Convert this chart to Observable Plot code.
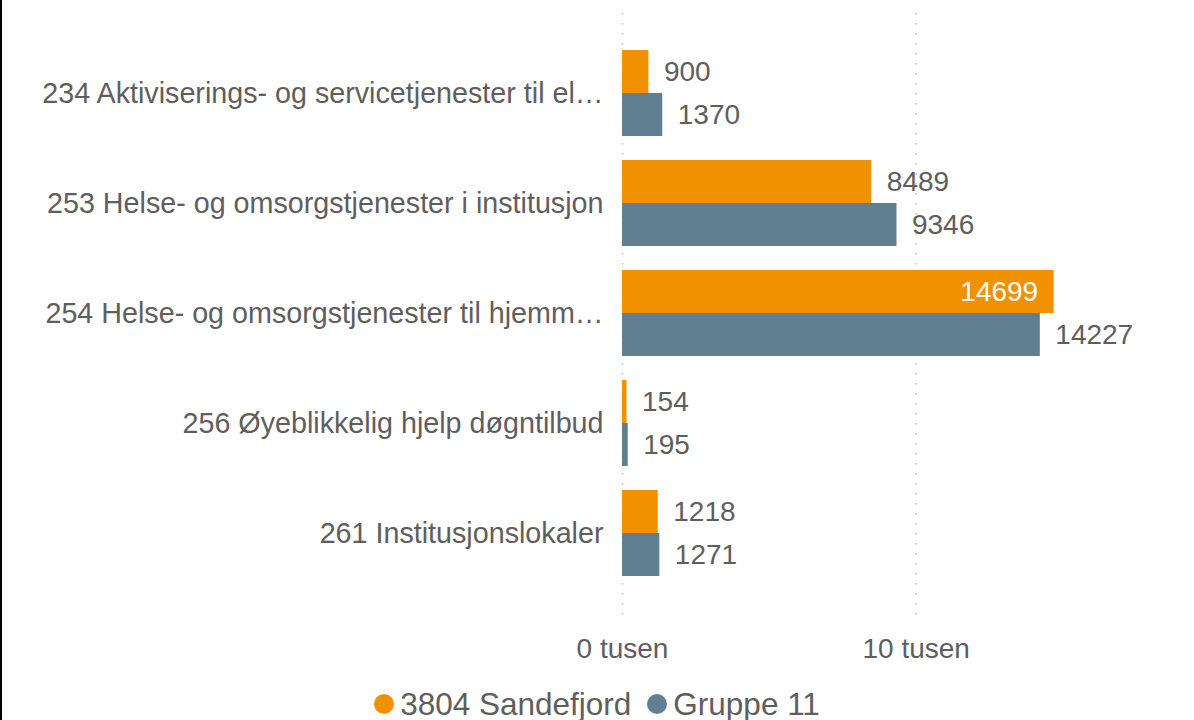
<!DOCTYPE html>
<html><head><meta charset="utf-8">
<script src="https://cdn.jsdelivr.net/npm/d3@7"></script>
<script src="https://cdn.jsdelivr.net/npm/@observablehq/plot@0.6"></script>
<style>
body{margin:0;background:#fff;font-family:"Liberation Sans",Arial,sans-serif;}
#wrap{position:relative;width:1194px;height:720px;overflow:hidden;background:#fff}
#border{position:absolute;left:0;top:0;width:2px;height:720px;background:#000}
#chart{position:absolute;left:0;top:0}
#legend{position:absolute;left:0;top:684px;width:1194px;height:40px;display:flex;justify-content:center;align-items:center;font-size:31.5px;color:#605E5C;white-space:nowrap}
#legend .item{display:flex;align-items:center;margin:0 8px}
#legend .dot{width:20px;height:20px;border-radius:50%;margin-right:6px}
</style></head><body>
<div id="wrap"><div id="chart"></div><div id="legend"></div><div id="border"></div></div>
<script>
const categories = [
  "234 Aktiviserings- og servicetjenester til el…",
  "253 Helse- og omsorgstjenester i institusjon",
  "254 Helse- og omsorgstjenester til hjemm…",
  "256 Øyeblikkelig hjelp døgntilbud",
  "261 Institusjonslokaler"
];
const seriesNames = ["3804 Sandefjord", "Gruppe 11"];
const sandefjord = [900, 8489, 14699, 154, 1218];
const gruppe11 = [1370, 9346, 14227, 195, 1271];
const xTicks = [0, 10000];
const xTickLabels = ["0 tusen", "10 tusen"];
const colors = ["#F29100", "#607F91"];
const textColor = "#605E5C";

const rowsA = categories.map((c, i) => ({category: c, value: sandefjord[i], series: seriesNames[0]}));
const rowsB = categories.map((c, i) => ({category: c, value: gruppe11[i], series: seriesNames[1]}));
const maxVal = Math.max(...sandefjord, ...gruppe11);
const half = 43;

const chart = Plot.plot({
  width: 1194,
  height: 682,
  marginLeft: 622,
  marginRight: 14,
  marginTop: 12,
  marginBottom: 59,
  style: {fontFamily: '"Liberation Sans", Arial, sans-serif', fontSize: "28px", color: textColor, background: "transparent"},
  x: {domain: [0, 19000]},
  y: {domain: categories, range: [12, 623], paddingInner: 0.218, paddingOuter: 0.386, align: 0.447},
  marks: [
    Plot.ruleX(xTicks, {stroke: "#bdbdbd", strokeWidth: 1.5, strokeDasharray: "1.5,8.5", strokeDashoffset: -1}),
    Plot.barX(rowsA, {x: "value", y: "category", fill: colors[0], insetBottom: half}),
    Plot.barX(rowsB, {x: "value", y: "category", fill: colors[1], insetTop: half}),
    Plot.text(rowsA.filter(d => d.value !== maxVal), {x: "value", y: "category", text: d => String(d.value), dy: -half / 2, dx: 15, textAnchor: "start", fill: textColor, fontSize: 28}),
    Plot.text(rowsA.filter(d => d.value === maxVal), {x: "value", y: "category", text: d => String(d.value), dy: -half / 2, dx: -16, textAnchor: "end", fill: "#ffffff", fontSize: 28}),
    Plot.text(rowsB, {x: "value", y: "category", text: d => String(d.value), dy: half / 2, dx: 15, textAnchor: "start", fill: textColor, fontSize: 28}),
    Plot.axisY({tickSize: 0, tickPadding: 19, label: null, fontSize: 28.7}),
    Plot.axisX({ticks: xTicks, tickFormat: d => xTickLabels[xTicks.indexOf(d)], tickSize: 0, tickPadding: 15, label: null, fontSize: 28})
  ]
});
document.getElementById("chart").appendChild(chart);

const legend = document.getElementById("legend");
seriesNames.forEach((name, i) => {
  const item = document.createElement("div");
  item.className = "item";
  const dot = document.createElement("span");
  dot.className = "dot";
  dot.style.background = colors[i];
  const label = document.createElement("span");
  label.textContent = name;
  item.appendChild(dot);
  item.appendChild(label);
  legend.appendChild(item);
});
</script>
</body></html>
